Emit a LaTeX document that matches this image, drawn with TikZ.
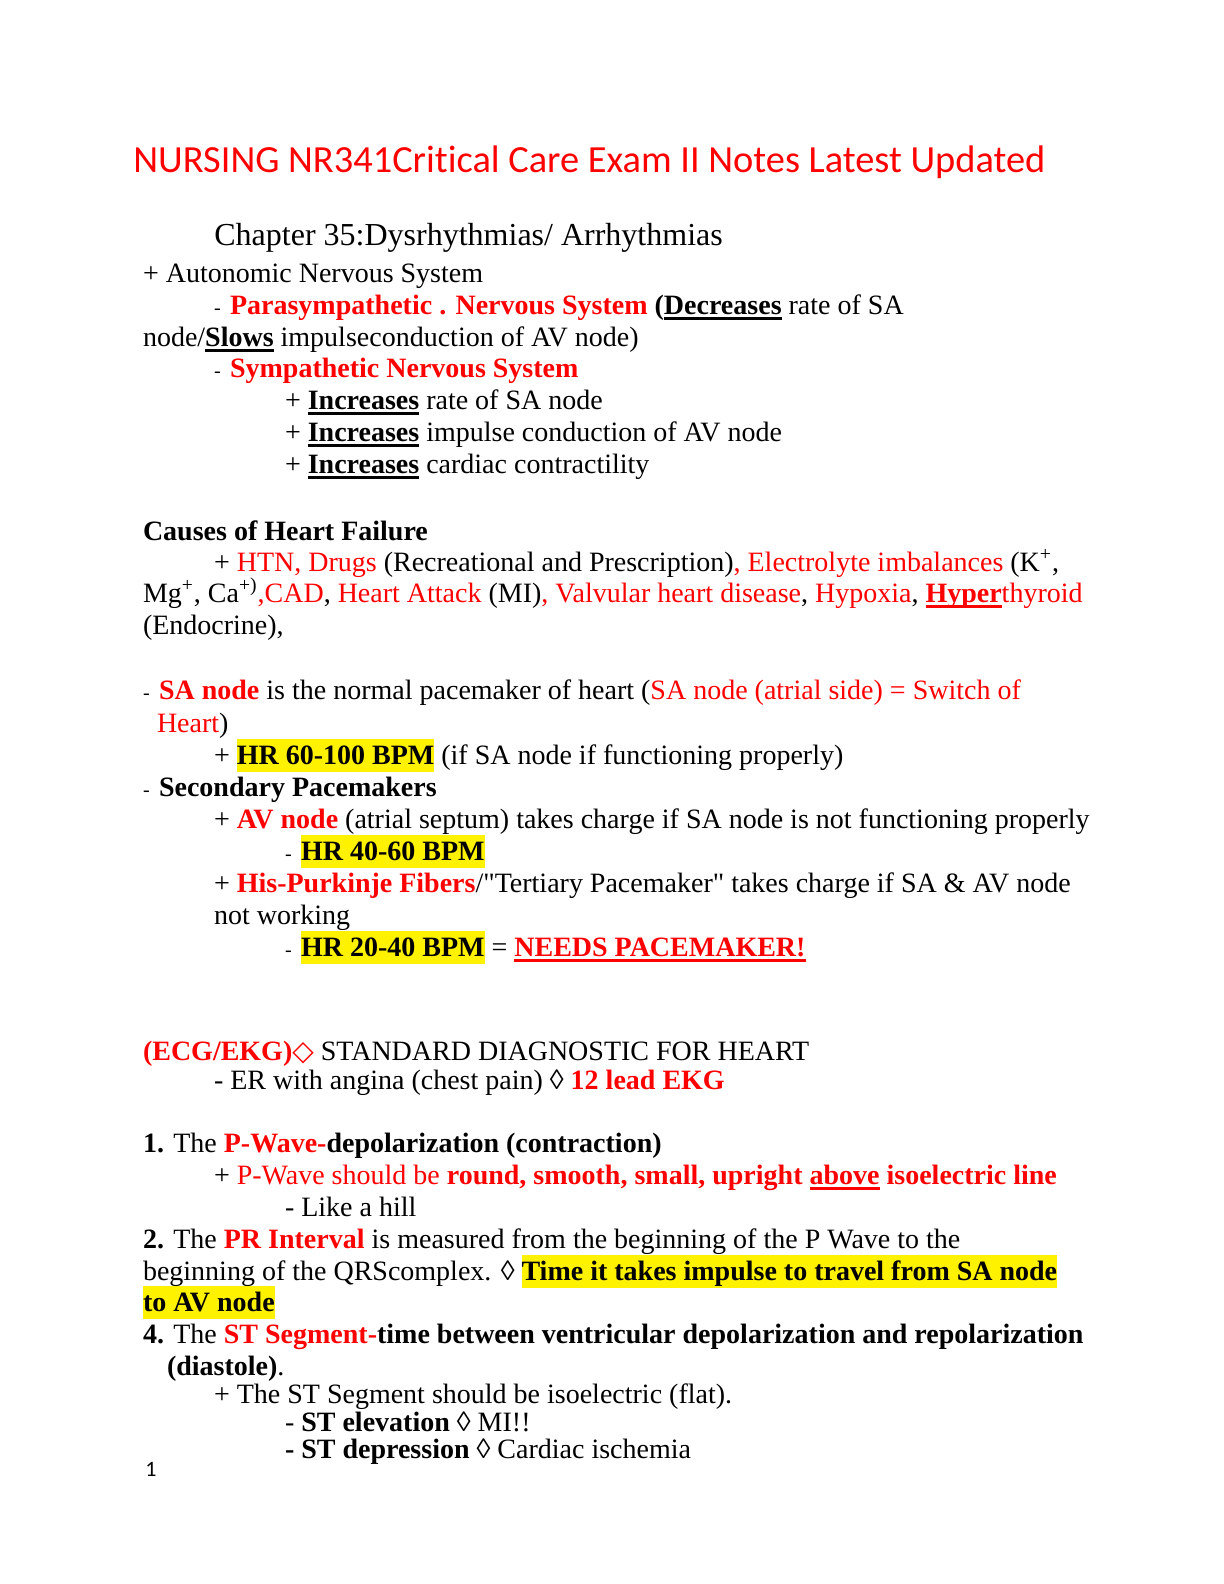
\documentclass[tikz,border=0pt]{standalone}
\usepackage{fontspec}
\usepackage{xcolor}
\setmainfont{Liberation Serif}[Ligatures=TeXOff]
\newfontfamily\titlefont{Carlito}[Ligatures=NoCommon]
\newfontfamily\symfont{DejaVu Sans}
\newcommand\R[1]{\textcolor{red}{#1}}
\newcommand\RB[1]{\textcolor{red}{\textbf{#1}}}
\newcommand\myul[1]{\setbox0\hbox{#1}\rlap{\copy0}\rule[-2.8pt]{\wd0}{1.1pt}}
\newcommand\hlt[1]{{\fboxsep=0pt\colorbox{yellow}{\rule[-3.8pt]{0pt}{16.5pt}#1}}}
\newcommand\sdash{{\fontsize{10}{12}\selectfont -}\hspace{1.2pt}\ }
\begin{document}
\begin{tikzpicture}[x=0.5pt,y=-0.5pt,
  ln/.style={anchor=base west,inner sep=0pt,outer sep=0pt,font=\fontsize{14}{16}\selectfont}]
\useasboundingbox[fill=white] (0,0) rectangle (1224,1584);
\node[anchor=base west,inner sep=0pt,font=\titlefont\fontsize{19.2}{23}\selectfont,text=red] (title) at (133,172) {NURSING NR341Critical Care Exam II Notes Latest Updated};
\node[anchor=base west,inner sep=0pt,font=\fontsize{16}{18}\selectfont] (chap) at (214,245) {Chapter 35:Dysrhythmias/ Arrhythmias};
\node[ln] (l1) at (143,282) {+ Autonomic Nervous System};
\node[ln] (l2) at (214,314) {\sdash\RB{Parasympathetic . Nervous System} \textbf{(\myul{Decreases}} rate of SA};
\node[ln] (l3) at (143,346) {node/\textbf{\myul{Slows}} impulseconduction of AV node)};
\node[ln] (l4) at (214,377) {\sdash\RB{Sympathetic Nervous System}};
\node[ln] (l5) at (285,409) {+ \textbf{\myul{Increases}} rate of SA node};
\node[ln] (l6) at (285,441) {+ \textbf{\myul{Increases}} impulse conduction of AV node};
\node[ln] (l7) at (285,473) {+ \textbf{\myul{Increases}} cardiac contractility};
\node[ln] (l8) at (143,540) {\textbf{Causes of Heart Failure}};
\node[ln] (l9) at (214,571) {+ \R{HTN, Drugs} (Recreational and Prescription)\R{, Electrolyte imbalances} (K\textsuperscript{+},};
\node[ln] (l10) at (143,602) {Mg\textsuperscript{+}, Ca\textsuperscript{+)}\R{,CAD}, \R{Heart Attack} (MI)\R{, Valvular heart disease}, \R{Hypoxia}, \R{\textbf{\myul{Hyper}}thyroid}};
\node[ln] (l11) at (143,634) {(Endocrine),};
\node[ln] (l12) at (143,699) {\sdash\RB{SA node} is the normal pacemaker of heart (\R{SA node (atrial side) = Switch of}};
\node[ln] (l13) at (157,732) {\R{Heart})};
\node[ln] (l14) at (214,764) {+ \hlt{\textbf{HR 60-100 BPM}} (if SA node if functioning properly)};
\node[ln] (l15) at (143,796) {\sdash\textbf{Secondary Pacemakers}};
\node[ln] (l16) at (214,828) {+ \RB{AV node} (atrial septum) takes charge if SA node is not functioning properly};
\node[ln] (l17) at (285,860) {\sdash\hlt{\textbf{HR 40-60 BPM}}};
\node[ln] (l18) at (214,892) {+ \RB{His-Purkinje Fibers}/"Tertiary Pacemaker" takes charge if SA \& AV node};
\node[ln] (l19) at (214,924) {not working};
\node[ln] (l20) at (285,956) {\sdash\hlt{\textbf{HR 20-40 BPM}} = \RB{\myul{NEEDS PACEMAKER!}}};
\node[ln] (l21) at (143,1060) {\RB{(ECG/EKG)}\R{\symfont ◇} STANDARD DIAGNOSTIC FOR HEART};
\node[ln] (l22) at (214,1089) {- ER with angina (chest pain) ◊ \RB{12 lead EKG}};
\node[ln] (l23) at (143,1152) {\textbf{1.} The \RB{P-Wave-}\textbf{depolarization (contraction)}};
\node[ln] (l24) at (214,1184) {+ \R{P-Wave should be \textbf{round, smooth, small, upright \myul{above} isoelectric line}}};
\node[ln] (l25) at (285,1216) {- Like a hill};
\node[ln] (l26) at (143,1248) {\textbf{2.} The \RB{PR Interval} is measured from the beginning of the P Wave to the};
\node[ln] (l27) at (143,1280) {beginning of the QRScomplex. ◊ \hlt{\textbf{Time it takes impulse to travel from SA node}}};
\node[ln] (l28) at (143,1311) {\hlt{\textbf{to AV node}}};
\node[ln] (l29) at (143,1343) {\textbf{4.} The \RB{ST Segment-}\textbf{time between ventricular depolarization and repolarization}};
\node[ln] (l30) at (167,1375) {\textbf{(diastole)}.};
\node[ln] (l31) at (214,1403) {+ The ST Segment should be isoelectric (flat).};
\node[ln] (l32) at (285,1431) {- \textbf{ST elevation} ◊ MI!!};
\node[ln] (l33) at (285,1458) {\textbf{- ST depression} ◊ Cardiac ischemia};
\node[anchor=base west,inner sep=0pt,font=\titlefont\fontsize{11}{13}\selectfont] (pg) at (145,1476) {1};
\end{tikzpicture}
\end{document}
